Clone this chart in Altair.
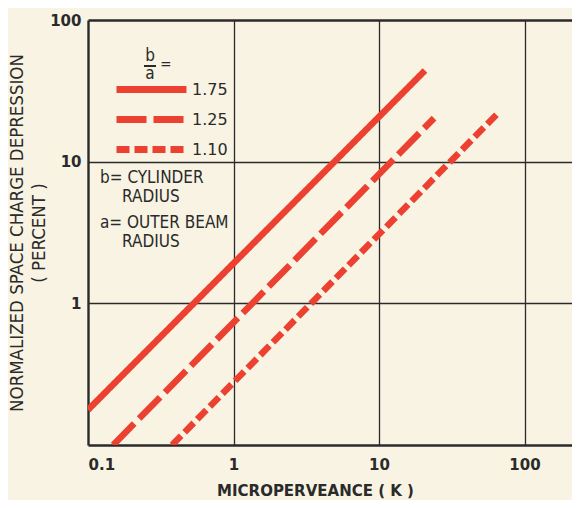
import altair as alt
import pandas as pd

# ---- data ----
ratios = ["1.75", "1.25", "1.10"]
start_k = [0.1, 0.149, 0.378]
start_d = [0.177, 0.1, 0.1]
end_k = [20.7, 23.9, 66.8]
end_d = [44.0, 20.3, 22.4]
x_ticks = [0.1, 1, 10, 100]
y_ticks = [0.1, 1, 10, 100]
dash_patterns = [[1, 0], [30, 7], [13, 5]]

rows = []
for r, k0, d0, k1, d1 in zip(ratios, start_k, start_d, end_k, end_d):
    rows.append({"ratio": r, "k": k0, "d": d0, "o": 0})
    rows.append({"ratio": r, "k": k1, "d": d1, "o": 1})
df = pd.DataFrame(rows)

RED = "#ec4131"
INK = "#2a2a2a"
BG = "#f8f3e3"
FONT = "DejaVu Sans"
NARROW = "DejaVu Sans Condensed"

edge_x = "datum.value == 0.1"
edge_y = "datum.value == 0.1 || datum.value == 100"

lines = alt.Chart(df).mark_line(strokeWidth=6.5, clip=True, strokeCap="butt", color=RED).encode(
    x=alt.X("k:Q",
            scale=alt.Scale(type="log", domain=[0.1, 212], nice=False),
            axis=alt.Axis(values=x_ticks, grid=True, domain=False, ticks=False,
                          gridColor=INK,
                          gridWidth={"condition": {"test": edge_x, "value": 2.4}, "value": 1.3},
                          labelExpr="datum.value < 1 ? '0.1' : format(datum.value, 'd')",
                          labelFont=FONT, labelFontWeight="bold", labelFontSize=15,
                          labelColor=INK, labelPadding=12,
                          title="MICROPERVEANCE  ( K )", titleFont=FONT,
                          titleFontWeight="bold", titleFontSize=15, titleColor=INK,
                          titleX=227, titleAlign="center",
                          titleY=45, titleBaseline="middle")),
    y=alt.Y("d:Q",
            scale=alt.Scale(type="log", domain=[0.1, 100], nice=False),
            axis=alt.Axis(values=y_ticks, grid=True, domain=False, ticks=False,
                          gridColor=INK,
                          gridWidth={"condition": {"test": edge_y, "value": 2.4}, "value": 1.3},
                          labelExpr="datum.value < 1 ? '' : format(datum.value, 'd')",
                          labelFont=FONT, labelFontWeight="bold", labelFontSize=15,
                          labelColor=INK, labelPadding=7, labelBaseline="middle",
                          title=["NORMALIZED  SPACE  CHARGE  DEPRESSION", "( PERCENT )"],
                          titleFont=NARROW, titleFontWeight="normal", titleFontSize=18.5,
                          titleColor=INK, titleLineHeight=22, titleAngle=-90,
                          titleX=-72, titleBaseline="middle")),
    strokeDash=alt.StrokeDash("ratio:N",
                              scale=alt.Scale(domain=ratios, range=dash_patterns),
                              legend=alt.Legend(orient="none", legendX=25, legendY=54,
                                                title=None, symbolType="M-1,0H4.83",
                                                symbolSize=576, symbolStrokeWidth=7,
                                                symbolStrokeColor=RED,
                                                labelFont=FONT, labelFontSize=16,
                                                labelColor=INK, labelOffset=48,
                                                rowPadding=-2.5)),
    detail="ratio:N",
    order="o:Q",
)

one = pd.DataFrame({"a": [0]})

def label(txt, x, y, size=16, align="left", font=NARROW):
    return alt.Chart(one).mark_text(font=font, fontSize=size, color=INK,
                                    align=align, baseline="middle").encode(
        x=alt.value(x), y=alt.value(y), text=alt.value(txt))

frac_b = label("b", 62, 36, 17, "center")
frac_a = label("a", 62, 54, 17, "center")
frac_eq = label("=", 78, 44, 15, "center")
frac_bar = alt.Chart(one).mark_rule(color=INK, strokeWidth=2).encode(
    x=alt.value(56), x2=alt.value(68), y=alt.value(46))

notes = [
    label("b= CYLINDER", 12, 158, 17),
    label("RADIUS", 34, 177, 17),
    label("a= OUTER BEAM", 12, 203, 17),
    label("RADIUS", 34, 222, 17),
]

chart = alt.layer(lines, frac_b, frac_a, frac_eq, frac_bar, *notes).properties(
    width=484, height=425,
    autosize=alt.AutoSizeParams(type="none"),
    padding={"left": 80, "top": 12, "right": 0, "bottom": 55},
    background=BG,
).configure_view(stroke=None)

chart.save("out.html", embed_options={"renderer": "svg", "actions": False})
